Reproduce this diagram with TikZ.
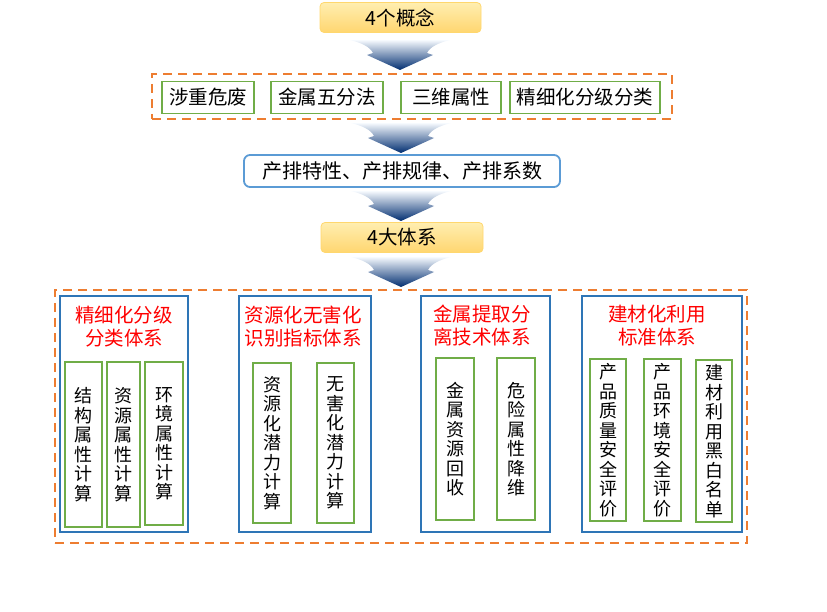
\documentclass[tikz,border=0pt]{standalone}
\usepackage{fontspec}
\setmainfont{Noto Sans CJK SC}
\usetikzlibrary{positioning,calc}
\definecolor{conceptTop}{RGB}{255,238,176}
\definecolor{conceptBot}{RGB}{255,214,112}
\definecolor{conceptLine}{RGB}{255,215,110}
\definecolor{frameOrange}{RGB}{237,125,49}
\definecolor{itemGreen}{RGB}{112,173,71}
\definecolor{sysBlue}{RGB}{46,117,182}
\definecolor{rowBlue}{RGB}{91,155,213}
\definecolor{arrowTop}{RGB}{246,250,254}
\definecolor{arrowMid}{RGB}{60,132,208}
\definecolor{arrowBot}{RGB}{0,45,112}
\definecolor{titleRed}{RGB}{255,0,0}

\begin{document}
\begin{tikzpicture}[
    x=1pt, y=-1pt,
    box/.style={rectangle, draw, inner sep=0pt, align=center},
    headline/.style={box, rounded corners=4pt, draw=conceptLine, line width=0.8pt,
        top color=conceptTop, bottom color=conceptBot, minimum height=30pt,
        font=\fontsize{19.5}{22}\selectfont},
    frame/.style={box, draw=frameOrange, dashed, dash pattern=on 9pt off 6pt, line width=1.6pt},
    concept/.style={box, draw=itemGreen, line width=1.8pt, minimum height=32pt,
        font=\fontsize{19.5}{22}\selectfont},
    rowbox/.style={box, rounded corners=6pt, draw=rowBlue, line width=1.8pt,
        minimum width=316pt, minimum height=32pt, font=\fontsize{20}{24}\selectfont},
    system/.style={box, draw=sysBlue, line width=1.8pt, minimum height=236pt},
    systitle/.style={align=center, text=titleRed, inner sep=0pt,
        font=\fontsize{19.5}{23}\selectfont},
    item/.style={box, draw=itemGreen, line width=1.8pt,
        font=\fontsize{18}{19.5}\selectfont},
    downarrow/.pic={
        \shade[top color=arrowTop, middle color=arrowMid, bottom color=arrowBot]
            (-50,0) -- (50,0) .. controls (38,3) and (30,7) .. (27,13)
            -- (33,15) -- (0,30) -- (-33,15) -- (-27,13)
            .. controls (-30,7) and (-38,3) .. (-50,0) -- cycle;
    }
]
\useasboundingbox (0,0) rectangle (827,612);

% Top: concepts
\node[headline, minimum width=161pt] (concepts) at (400.5,17.5) {4个概念};
\pic at (400,40) {downarrow};

\node[frame, minimum width=520pt, minimum height=45pt] (conceptframe) at (412,96.5) {};
\node[concept, minimum width=92pt] (heavy) at (208,97.5) {涉重危废};
\node[concept, minimum width=112pt] (metal) at (327,97.5) {金属五分法};
\node[concept, minimum width=100pt] (threed) at (451,97.5) {三维属性};
\node[concept, minimum width=150pt] (fine) at (585,97.5) {精细化分级分类};
\pic at (401,123) {downarrow};

% Emission row
\node[rowbox] (emission) at (402,171) {产排特性、产排规律、产排系数};
\pic at (401,191) {downarrow};

% Systems
\node[headline, minimum width=162pt] (systems) at (402,237.5) {4大体系};
\pic at (401,257) {downarrow};

\node[frame, minimum width=692pt, minimum height=253pt] (sysframe) at (401,416.5) {};

\node[system, minimum width=128pt] (sysA) at (124,414) {};
\node[system, minimum width=132pt] (sysB) at (305,414) {};
\node[system, minimum width=129pt] (sysC) at (485.5,414) {};
\node[system, minimum width=160pt] (sysD) at (662,414) {};

\node[systitle] (titleA) at (124,326.5) {精细化分级\\分类体系};
\node[systitle] (titleB) at (303,327) {资源化无害化\\识别指标体系};
\node[systitle] (titleC) at (482,326) {金属提取分\\离技术体系};
\node[systitle] (titleD) at (657,326) {建材化利用\\标准体系};

% System A items
\node[item, minimum width=37pt, minimum height=165pt] (structA) at (83.5,444.5) {结\\构\\属\\性\\计\\算};
\node[item, minimum width=33pt, minimum height=165pt] (resA) at (123.5,444.5) {资\\源\\属\\性\\计\\算};
\node[item, minimum width=38pt, minimum height=163pt] (envA) at (164,443.5) {环\\境\\属\\性\\计\\算};

% System B items
\node[item, minimum width=38pt, minimum height=160pt] (resB) at (272,443) {资\\源\\化\\潜\\力\\计\\算};
\node[item, minimum width=37pt, minimum height=160pt] (harmB) at (335.5,443) {无\\害\\化\\潜\\力\\计\\算};

% System C items
\node[item, minimum width=38pt, minimum height=162pt] (recC) at (455,439) {金\\属\\资\\源\\回\\收};
\node[item, minimum width=38pt, minimum height=162pt] (dimC) at (516,439) {危\\险\\属\\性\\降\\维};

% System D items
\node[item, minimum width=36pt, minimum height=162pt] (qualD) at (608,440) {产\\品\\质\\量\\安\\全\\评\\价};
\node[item, minimum width=37pt, minimum height=162pt] (envD) at (662.5,440) {产\\品\\环\\境\\安\\全\\评\\价};
\node[item, minimum width=36pt, minimum height=162pt] (listD) at (714,441) {建\\材\\利\\用\\黑\\白\\名\\单};

\end{tikzpicture}
\end{document}
